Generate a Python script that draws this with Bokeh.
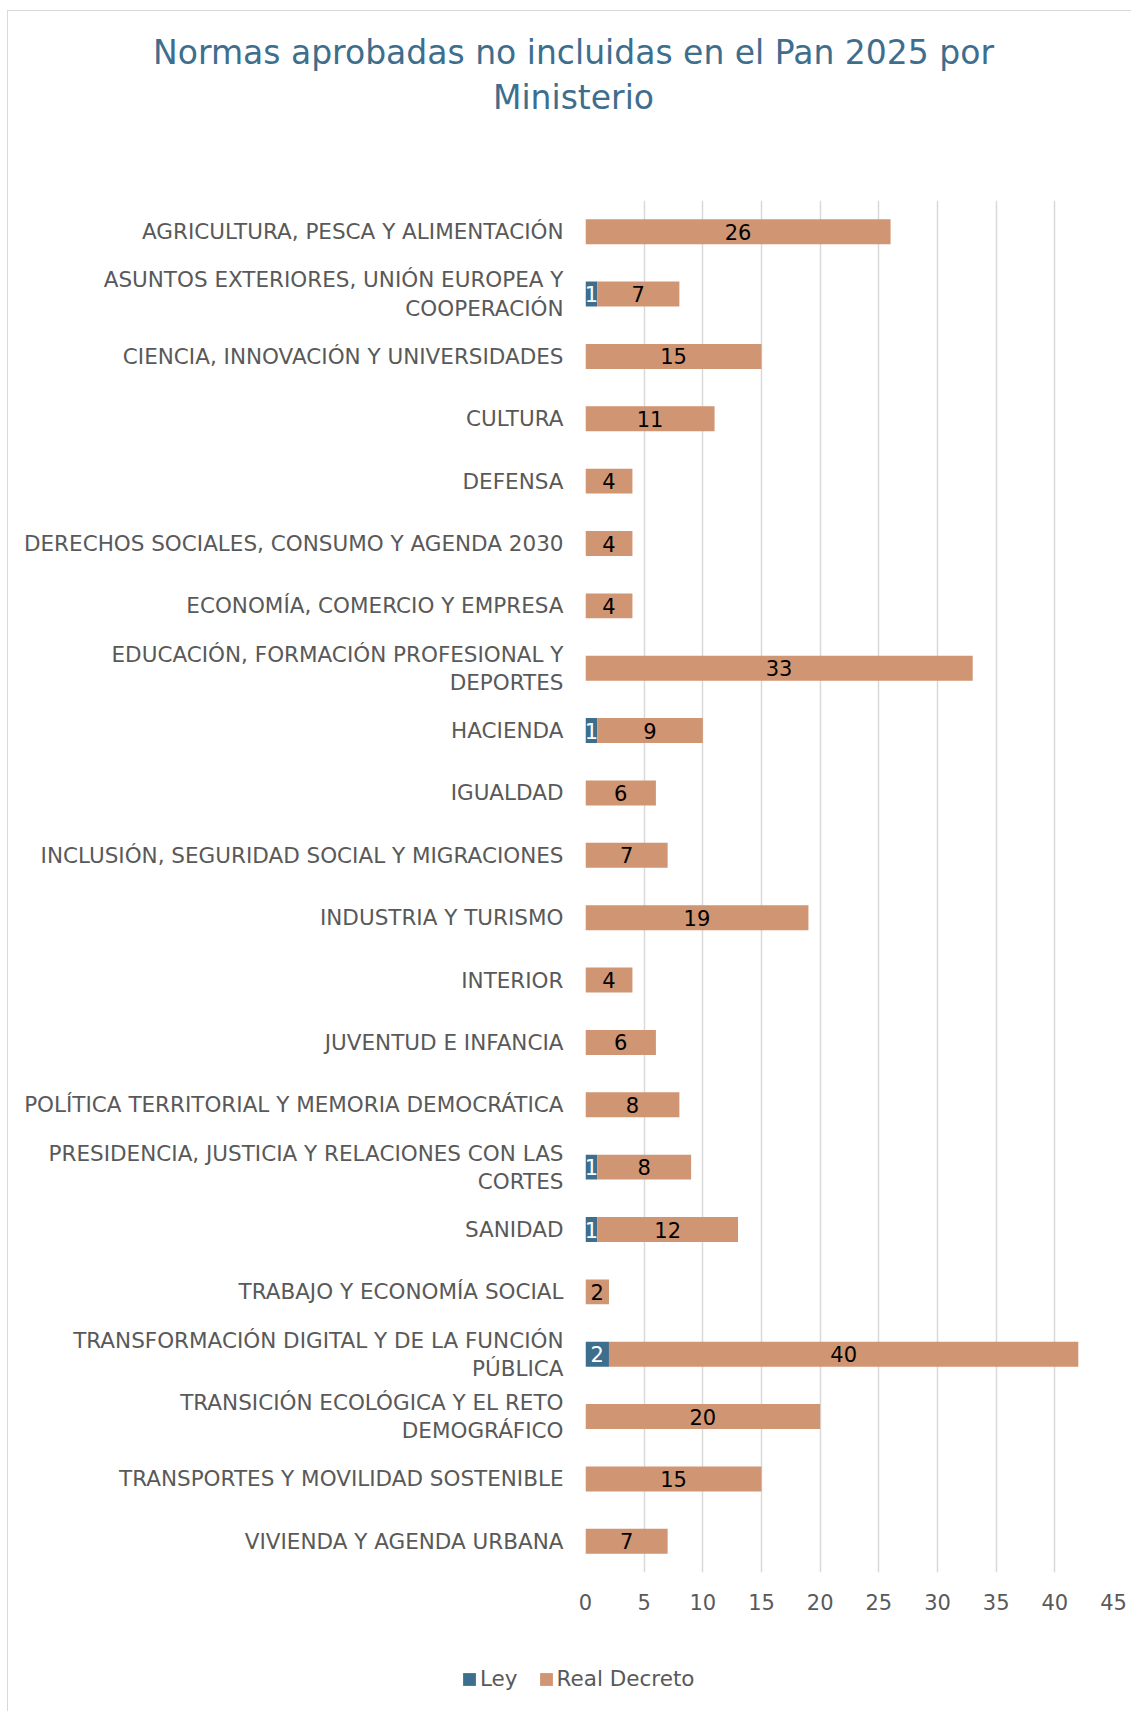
import numpy as np
from bokeh.plotting import figure
from bokeh.layouts import column
from bokeh.models import (FactorRange, Range1d, FixedTicker, Legend, LegendItem,
                          ColumnDataSource)
from bokeh.core.properties import value
from bokeh.embed import file_html
from bokeh.resources import INLINE

title_lines = ["Normas aprobadas no incluidas en el Pan 2025 por", "Ministerio"]
ministerios = [
    "AGRICULTURA, PESCA Y ALIMENTACIÓN",
    "ASUNTOS EXTERIORES, UNIÓN EUROPEA Y\nCOOPERACIÓN",
    "CIENCIA, INNOVACIÓN Y UNIVERSIDADES",
    "CULTURA",
    "DEFENSA",
    "DERECHOS SOCIALES, CONSUMO Y AGENDA 2030",
    "ECONOMÍA, COMERCIO Y EMPRESA",
    "EDUCACIÓN, FORMACIÓN PROFESIONAL Y\nDEPORTES",
    "HACIENDA",
    "IGUALDAD",
    "INCLUSIÓN, SEGURIDAD SOCIAL Y MIGRACIONES",
    "INDUSTRIA Y TURISMO",
    "INTERIOR",
    "JUVENTUD E INFANCIA",
    "POLÍTICA TERRITORIAL Y MEMORIA DEMOCRÁTICA",
    "PRESIDENCIA, JUSTICIA Y RELACIONES CON LAS\nCORTES",
    "SANIDAD",
    "TRABAJO Y ECONOMÍA SOCIAL",
    "TRANSFORMACIÓN DIGITAL Y DE LA FUNCIÓN\nPÚBLICA",
    "TRANSICIÓN ECOLÓGICA Y EL RETO\nDEMOGRÁFICO",
    "TRANSPORTES Y MOVILIDAD SOSTENIBLE",
    "VIVIENDA Y AGENDA URBANA",
]
ley = [0, 1, 0, 0, 0, 0, 0, 0, 1, 0, 0, 0, 0, 0, 0, 1, 1, 0, 2, 0, 0, 0]
real_decreto = [26, 7, 15, 11, 4, 4, 4, 33, 9, 6, 7, 19, 4, 6, 8, 8, 12, 2, 40, 20, 15, 7]
x_ticks = [0, 5, 10, 15, 20, 25, 30, 35, 40, 45]
series_names = ["Ley", "Real Decreto"]

FONT = "DejaVu Sans"
C_LEY = "#3E6E8E"
C_RD = "#D09572"
C_TXT = "#595959"
C_GRID = "#D9D9D9"

W = 1131
H_TITLE, H_MAIN, H_LEG = 160, 1470, 81
ML, MR, MT, MB = 585, 18, 40, 58


def bare(fig):
    fig.outline_line_color = None
    fig.border_fill_color = None
    fig.background_fill_color = None
    fig.frame_align = False
    return fig


# ---------- title ----------
pt = bare(figure(width=W, height=H_TITLE, output_backend="svg", toolbar_location=None,
                 x_range=Range1d(0, W), y_range=Range1d(H_TITLE, 0),
                 x_axis_type=None, y_axis_type=None, min_border=0))
pt.text(x=[573, 573], y=[52, 97], text=title_lines, text_align="center",
        text_baseline="middle", text_font=value(FONT), text_font_size="33px",
        text_color=C_LEY)

# ---------- main chart ----------
ley_a = np.array(ley, dtype=float)
rd_a = np.array(real_decreto, dtype=float)

src = ColumnDataSource(dict(
    cat=ministerios,
    ley=ley_a,
    rd_left=ley_a,
    rd_right=ley_a + rd_a,
    rd_mid=ley_a + rd_a / 2,
    rd_txt=[str(v) for v in real_decreto],
))
ley_idx = [i for i, v in enumerate(ley) if v > 0]
src_ley = ColumnDataSource(dict(
    cat=[ministerios[i] for i in ley_idx],
    mid=[ley[i] / 2 for i in ley_idx],
    txt=[str(ley[i]) for i in ley_idx],
))

p = bare(figure(width=W, height=H_MAIN, output_backend="svg", toolbar_location=None,
                y_range=FactorRange(factors=list(reversed(ministerios))),
                x_range=Range1d(0, 45),
                min_border_left=ML, min_border_right=MR, min_border_top=MT,
                min_border_bottom=MB))

p.hbar(y="cat", left=0, right="ley", height=0.4, source=src,
       fill_color=C_LEY, line_color=None)
p.hbar(y="cat", left="rd_left", right="rd_right", height=0.4, source=src,
       fill_color=C_RD, line_color=None)

p.text(x="rd_mid", y="cat", text="rd_txt", source=src, text_align="center",
       text_baseline="middle", text_font=value(FONT), text_font_size="21px",
       text_color="black")
p.text(x="mid", y="cat", text="txt", source=src_ley, text_align="center",
       text_baseline="middle", text_font=value(FONT), text_font_size="21px",
       text_color="white")

p.xaxis.ticker = FixedTicker(ticks=x_ticks)
p.xgrid.grid_line_color = C_GRID
p.xgrid.grid_line_width = 1.5
p.ygrid.grid_line_color = None

for ax in (p.xaxis, p.yaxis):
    ax.axis_line_color = None
    ax.major_tick_line_color = None
    ax.minor_tick_line_color = None
    ax.major_tick_out = 0
    ax.major_tick_in = 0
    ax.major_label_text_color = C_TXT
    ax.major_label_text_font = FONT
p.xaxis.major_label_text_font_size = "21px"
p.xaxis.major_label_standoff = 21
p.yaxis.major_label_text_font_size = "21.5px"
p.yaxis.major_label_text_line_height = 1.13
p.yaxis.major_label_standoff = 22

# ---------- legend ----------
pl = bare(figure(width=W, height=H_LEG, output_backend="svg", toolbar_location=None,
                 x_range=Range1d(0, 1), y_range=Range1d(0, 1),
                 x_axis_type=None, y_axis_type=None, min_border=0))
# zero-width proxy bars: only their legend swatches are visible
g_ley = pl.hbar(y=[0.5], left=[0], right=[0], height=0.4, fill_color=C_LEY, line_color=None)
g_rd = pl.hbar(y=[0.5], left=[0], right=[0], height=0.4, fill_color=C_RD, line_color=None)
legend = Legend(items=[LegendItem(label=series_names[0], renderers=[g_ley]),
                       LegendItem(label=series_names[1], renderers=[g_rd])],
                orientation="horizontal", location=(461, 20),
                label_text_font=FONT, label_text_font_size="21.5px",
                label_text_color=C_TXT, glyph_width=16, glyph_height=16,
                label_height=20, label_standoff=3, spacing=20, padding=0, margin=0,
                background_fill_alpha=0, border_line_color=None)
pl.add_layout(legend)

layout = column(pt, p, pl, spacing=0, styles={
    "background-color": "white",
    "background-image": f"linear-gradient({C_GRID}, {C_GRID}), linear-gradient({C_GRID}, {C_GRID})",
    "background-size": "1px 100%, 100% 1px",
    "background-position": "7px 10px, 7px 10px",
    "background-repeat": "no-repeat",
})

open("out.html", "w").write(file_html(layout, INLINE))
